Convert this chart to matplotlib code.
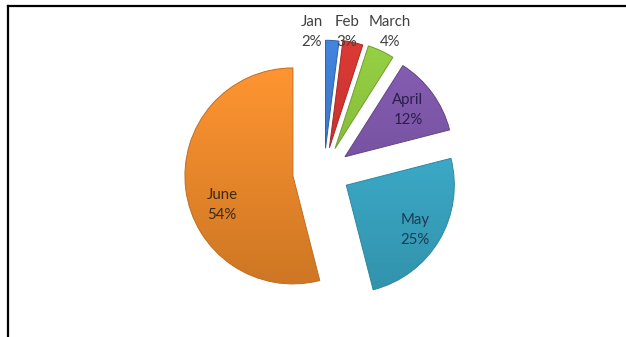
import matplotlib
matplotlib.use("Agg")
import matplotlib.pyplot as plt
import matplotlib.colors as mcolors
from matplotlib.lines import Line2D
import numpy as np

months = ["Jan", "Feb", "March", "April", "May", "June"]
shares = [2, 3, 4, 12, 25, 54]
explode = [0.22, 0.23, 0.24, 0.24, 0.24, 0.29]
colors = ["#3b7bd0", "#cf332f", "#8cc43c", "#7c55a8", "#3aaac8", "#f08a2a"]
text_colors = ["#404040", "#404040", "#404040", "#2a1f4a", "#1c3a52", "#3b2a18"]

W, H = 626, 337
R = 108.0            # pie radius in pixels
cx, cy = 324, 172    # pie centre in pixels (y down)

fig = plt.figure(figsize=(W / 100, H / 100), dpi=100)
ax = fig.add_axes([0, 0, 1, 1])

wedges, _ = ax.pie(shares, explode=explode, colors=colors, startangle=90,
                   counterclock=False,
                   wedgeprops=dict(linewidth=0.7))

# simple vertical shading inside each wedge, like the Excel look
for w, c in zip(wedges, colors):
    base = np.array(mcolors.to_rgb(c))
    light = np.clip(base * 1.04 + 0.02, 0, 1)
    dark = base * 0.86
    t = np.linspace(0, 1, 64)[:, None]
    grad = (dark * (1 - t) + light * t)[:, None, :].repeat(2, axis=1)
    x0, y0 = w.center
    im = ax.imshow(grad, origin="lower", interpolation="bilinear",
                   extent=[x0 - 1, x0 + 1, y0 - 1, y0 + 1], zorder=w.get_zorder())
    im.set_clip_path(w)
    w.set_edgecolor(tuple(base * 0.8))
    w.set_zorder(w.get_zorder() + 0.5)
    w.set_facecolor("none")

# label centres in pixels
label_pos = {
    "Jan": (312, 22), "Feb": (347, 22), "March": (390, 22),
    "April": (408, 100), "May": (415, 220), "June": (222, 195),
}
for m, s, tc in zip(months, shares, text_colors):
    px, py = label_pos[m]
    ax.text((px - cx) / R, (cy - py) / R, m, ha="center", va="center",
            fontsize=10.8, family="Lato", color=tc)
    ax.text((px - cx) / R, (cy - py - 20) / R, f"{s}%", ha="center", va="center",
            fontsize=10.8, family="Lato", color=tc)

ax.set_xlim(-cx / R, (W - cx) / R)
ax.set_ylim(-(H - cy) / R, cy / R)
ax.set_aspect("auto")
ax.axis("off")

# frame: only top and left edges are visible
fig.add_artist(Line2D([7.5 / W, 1], [1 - 6 / H, 1 - 6 / H], color="black", lw=1.6))
fig.add_artist(Line2D([7.5 / W, 7.5 / W], [0, 1 - 6 / H], color="black", lw=1.6))

fig.savefig("out.png", dpi=100)
